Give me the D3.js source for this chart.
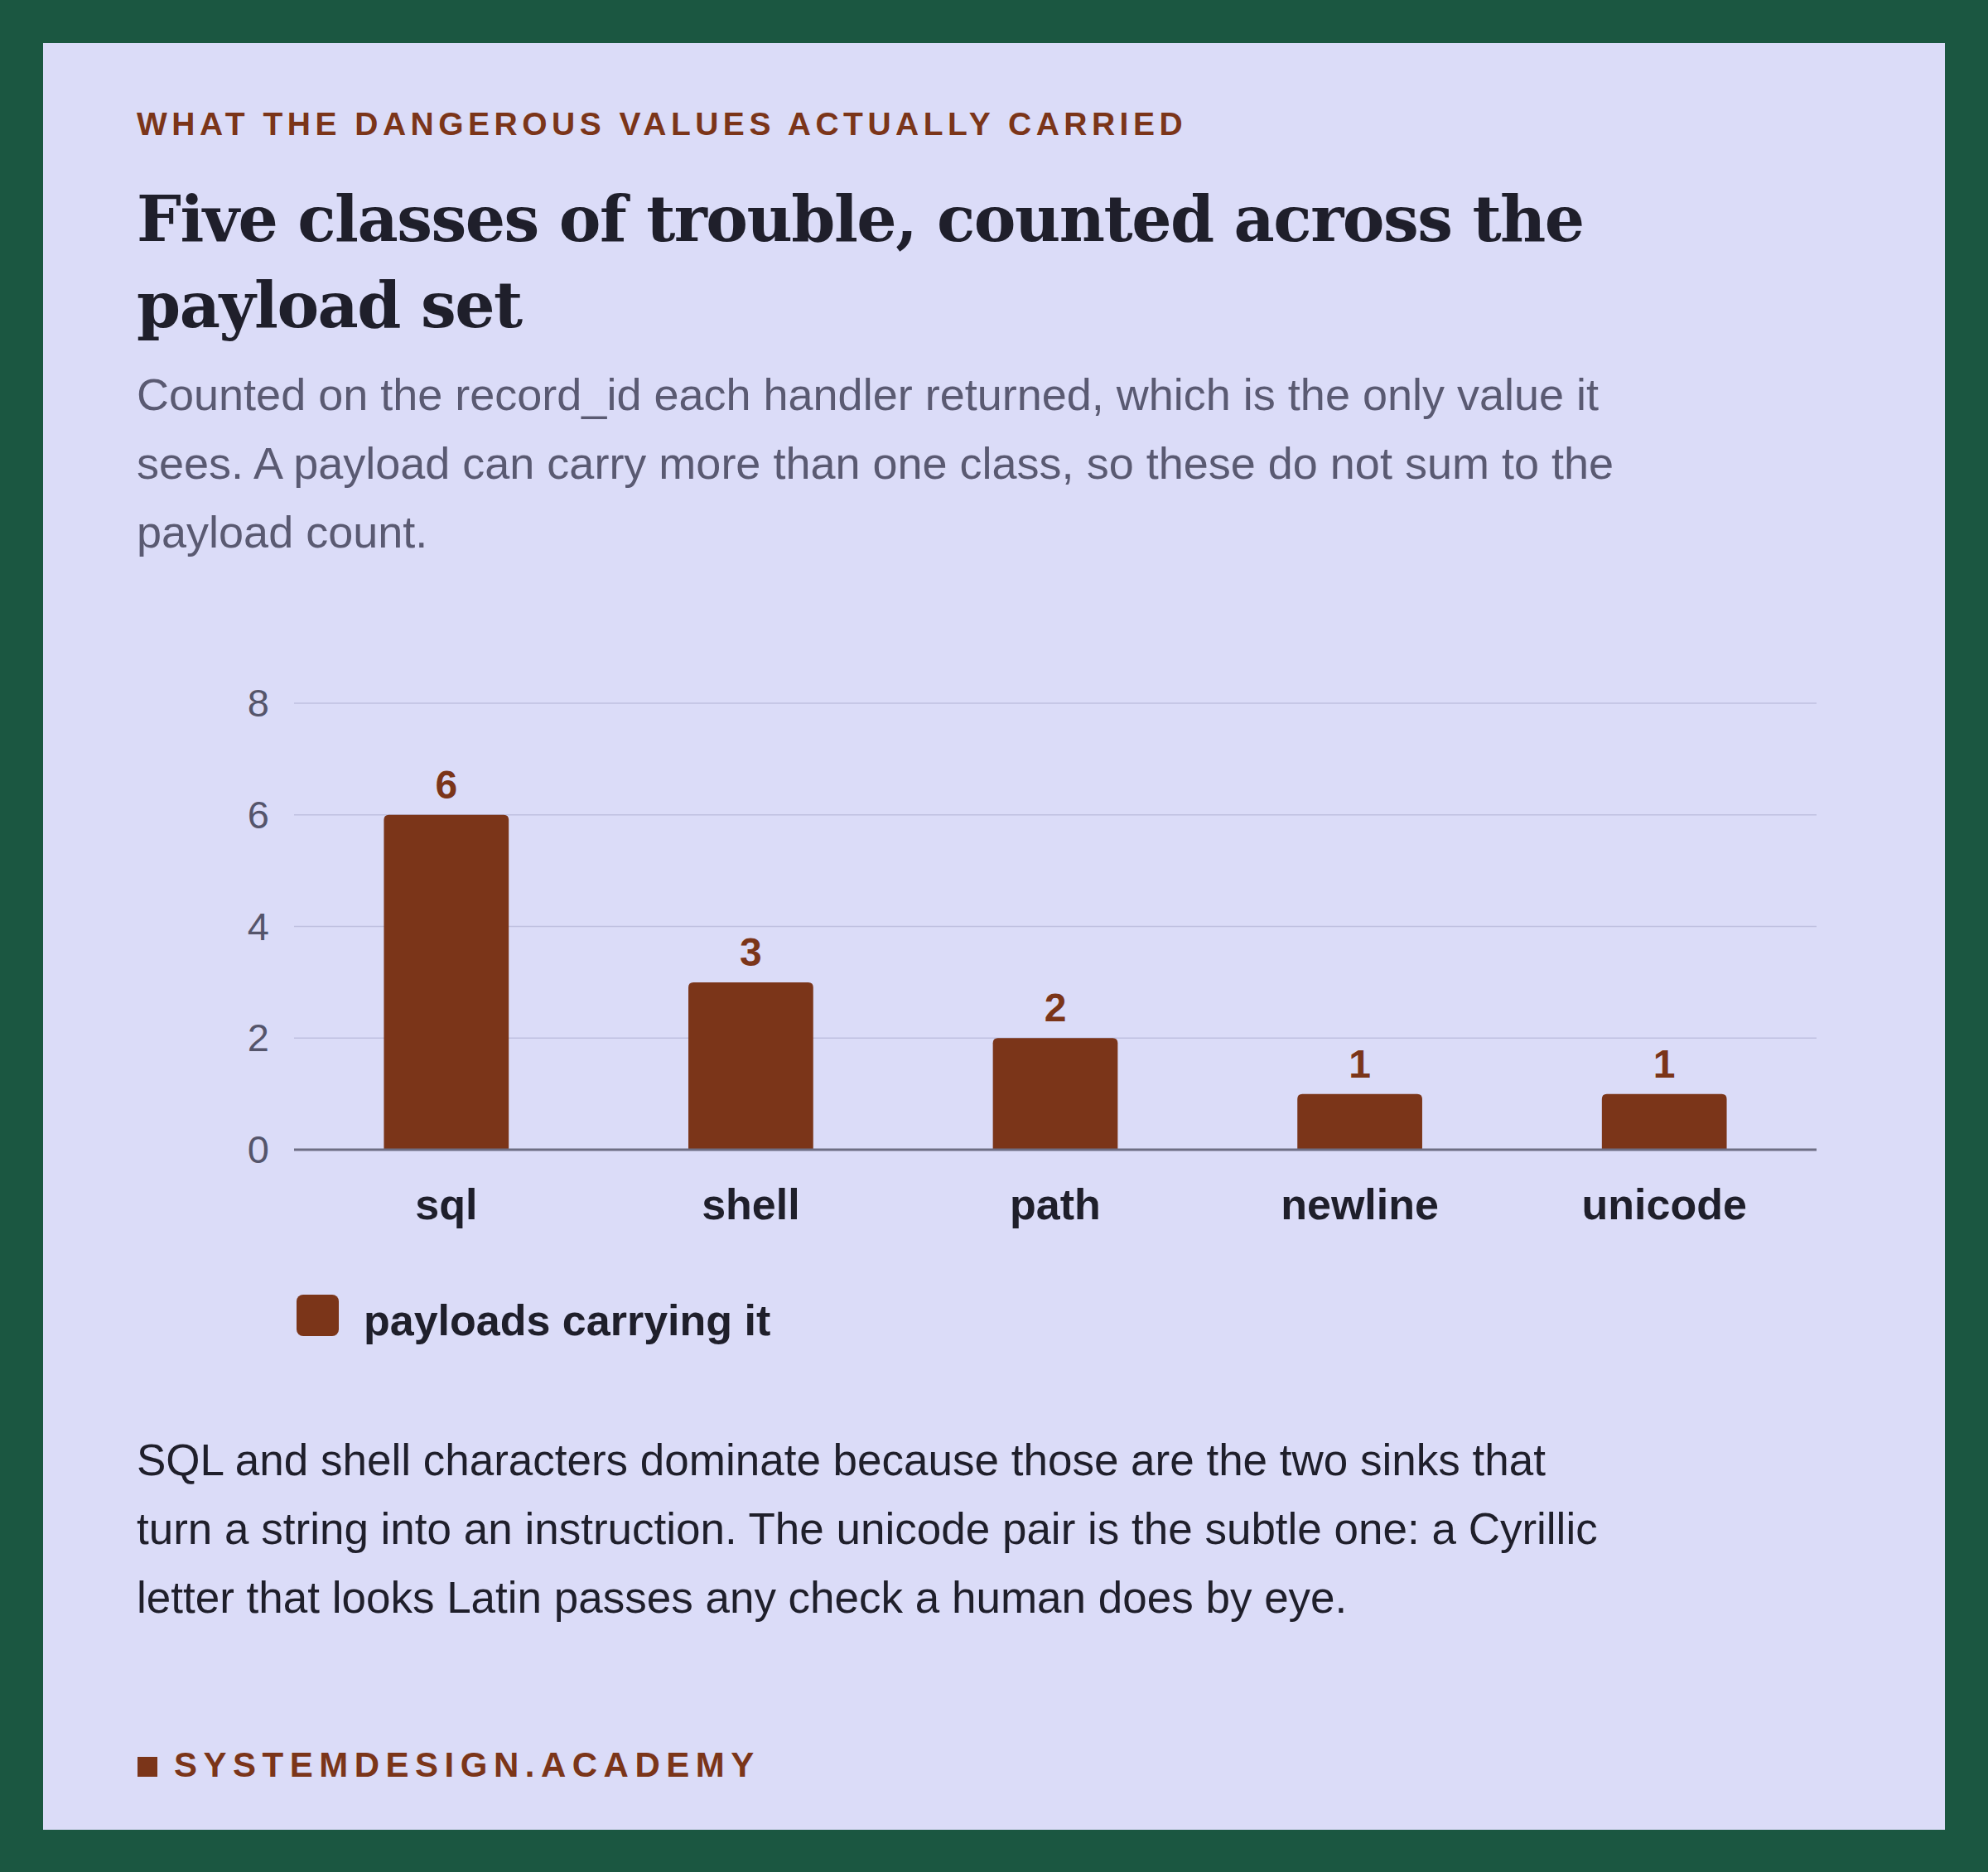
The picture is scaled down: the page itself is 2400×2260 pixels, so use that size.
<!DOCTYPE html>
<html><head><meta charset="utf-8">
<script src="https://cdn.jsdelivr.net/npm/d3@7"></script>
<style>body{margin:0;background:#1b5741}</style></head>
<body><svg id="c" width="2400" height="2260"></svg>
<script>
const categories = ["sql","shell","path","newline","unicode"];
const values = [6,3,2,1,1];
const yTicks = [0,2,4,6,8];
const seriesName = "payloads carrying it";

const svg = d3.select("#c");
const brown = "#7b3519";
svg.append("rect").attr("width",2400).attr("height",2260).attr("fill","#1b5741");
svg.append("rect").attr("x",52).attr("y",52).attr("width",2296).attr("height",2157).attr("fill","#dbdcf8");

const sans = "Liberation Sans, Arial, sans-serif";
svg.append("text").attr("x",165).attr("y",163).attr("fill",brown).attr("font-family",sans)
 .attr("font-weight","bold").attr("font-size",39).attr("letter-spacing",5.5).text("WHAT THE DANGEROUS VALUES ACTUALLY CARRIED");
["Five classes of trouble, counted across the","payload set"].forEach((t,i)=>
 svg.append("text").attr("x",165).attr("y",291+i*104).attr("fill","#1f1f2b").attr("font-family","DejaVu Serif, serif")
 .attr("font-weight","bold").attr("font-size",76).attr("letter-spacing",-1.5).text(t));
["Counted on the record_id each handler returned, which is the only value it","sees. A payload can carry more than one class, so these do not sum to the","payload count."].forEach((t,i)=>
 svg.append("text").attr("x",165).attr("y",495+i*83).attr("fill","#5a5a72").attr("font-family",sans)
 .attr("font-size",54).text(t));

const x = d3.scaleBand().domain(categories).range([355,2193]).paddingInner(0.59).paddingOuter(0.295);
const y = d3.scaleLinear().domain([0,8]).range([1388,849]);
const g = svg.append("g");
yTicks.forEach(v=>{
  if(v>0) g.append("line").attr("x1",355).attr("x2",2193).attr("y1",y(v)).attr("y2",y(v)).attr("stroke","#bfc0e0").attr("stroke-width",1.5);
  g.append("text").attr("x",325).attr("y",y(v)+16).attr("text-anchor","end").attr("fill","#55556b")
   .attr("font-family",sans).attr("font-size",47).text(v);
});
categories.forEach((c,i)=>{
  const h = y(0)-y(values[i]);
  g.append("path").attr("fill",brown).attr("d",
    `M${x(c)},${y(0)} V${y(values[i])+6} Q${x(c)},${y(values[i])} ${x(c)+6},${y(values[i])} H${x(c)+x.bandwidth()-6} Q${x(c)+x.bandwidth()},${y(values[i])} ${x(c)+x.bandwidth()},${y(values[i])+6} V${y(0)} Z`);
  g.append("text").attr("x",x(c)+x.bandwidth()/2).attr("y",y(values[i])-20).attr("text-anchor","middle")
   .attr("fill",brown).attr("font-family",sans).attr("font-weight","bold").attr("font-size",48).text(values[i]);
  g.append("text").attr("x",x(c)+x.bandwidth()/2).attr("y",1472).attr("text-anchor","middle")
   .attr("fill","#1f1f2b").attr("font-family",sans).attr("font-weight","bold").attr("font-size",52).text(c);
});
g.append("line").attr("x1",355).attr("x2",2193).attr("y1",y(0)).attr("y2",y(0)).attr("stroke","#6e6e84").attr("stroke-width",3);

svg.append("rect").attr("x",358).attr("y",1563).attr("width",51).attr("height",50).attr("rx",8).attr("fill",brown);
svg.append("text").attr("x",439).attr("y",1612).attr("fill","#1f1f2b").attr("font-family",sans)
 .attr("font-weight","bold").attr("font-size",52).text(seriesName);

["SQL and shell characters dominate because those are the two sinks that","turn a string into an instruction. The unicode pair is the subtle one: a Cyrillic","letter that looks Latin passes any check a human does by eye."].forEach((t,i)=>
 svg.append("text").attr("x",165).attr("y",1781+i*83).attr("fill","#1f1f2b").attr("font-family",sans)
 .attr("font-size",53).text(t));

svg.append("rect").attr("x",166).attr("y",2121).attr("width",24).attr("height",24).attr("fill",brown);
svg.append("text").attr("x",210).attr("y",2145).attr("fill",brown).attr("font-family",sans)
 .attr("font-weight","bold").attr("font-size",42).attr("letter-spacing",7.5).text("SYSTEMDESIGN.ACADEMY");
</script></body></html>
